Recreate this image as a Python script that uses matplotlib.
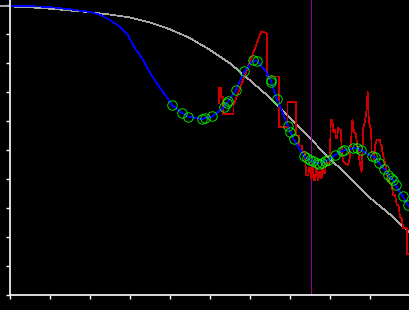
import matplotlib
matplotlib.use("Agg")
from matplotlib import pyplot as plt

# smooth reference curve (grey)
ref_x = [-0.25, 0.0, 0.5, 1.0, 1.5, 2.0, 2.5, 3.0, 3.5, 4.0, 4.5, 5.0, 5.5,
         6.0, 6.5, 7.0, 7.5, 8.0, 8.5, 9.0, 9.5, 10.0]
ref_y = [9.97, 9.95, 9.92, 9.87, 9.81, 9.75, 9.67, 9.57, 9.40, 9.16, 8.86,
         8.45, 7.99, 7.40, 6.80, 6.10, 5.40, 4.70, 4.03, 3.35, 2.78, 2.13]

# fitted curve (blue)
fit_x = [0.0, 0.5, 1.0, 1.5, 2.0, 2.25, 2.5, 2.75, 2.92, 3.125, 3.33, 3.46,
         3.67, 3.875, 4.05, 4.31, 4.46, 4.81, 4.875, 5.06, 5.2, 5.35, 5.42,
         5.46, 5.64, 5.86, 6.08, 6.175, 6.35, 6.52, 6.53, 6.675, 6.95, 7.01,
         7.09, 7.35, 7.42, 7.5, 7.58, 7.67, 7.73, 7.79, 7.875, 7.96, 8.125,
         8.29, 8.36, 8.58, 8.67, 8.77, 9.04, 9.125, 9.225, 9.36, 9.46, 9.525,
         9.58, 9.64, 9.82, 9.95, 10.1]
fit_y = [9.97, 9.96, 9.93, 9.85, 9.76, 9.66, 9.48, 9.25, 9.02, 8.51, 8.10,
         7.76, 7.30, 6.90, 6.55, 6.27, 6.15, 6.06, 6.10, 6.16, 6.30, 6.49,
         6.61, 6.68, 7.06, 7.71, 8.09, 8.06, 7.80, 7.40, 7.34, 6.75, 5.83,
         5.61, 5.37, 4.78, 4.71, 4.66, 4.61, 4.55, 4.53, 4.55, 4.61, 4.66,
         4.83, 4.95, 4.99, 5.06, 5.06, 5.00, 4.79, 4.75, 4.54, 4.33, 4.14,
         4.02, 3.97, 3.78, 3.41, 3.10, 2.75]

# sample points (green circles)
pts_x = [4.05, 4.31, 4.46, 4.81, 4.875, 5.06, 5.35, 5.42, 5.46, 5.64, 5.86,
         6.08, 6.175, 6.52, 6.53, 6.675, 6.95, 7.01, 7.09, 7.35, 7.42, 7.5,
         7.58, 7.67, 7.73, 7.79, 7.875, 7.96, 8.125, 8.29, 8.36, 8.58, 8.67,
         8.77, 9.04, 9.125, 9.225, 9.36, 9.46, 9.525, 9.58, 9.64, 9.82, 9.95]
pts_y = [6.55, 6.27, 6.15, 6.06, 6.10, 6.16, 6.49, 6.61, 6.68, 7.06, 7.71,
         8.09, 8.06, 7.40, 7.34, 6.75, 5.83, 5.61, 5.37, 4.78, 4.71, 4.66,
         4.61, 4.55, 4.53, 4.55, 4.61, 4.66, 4.83, 4.95, 4.99, 5.06, 5.06,
         5.00, 4.79, 4.75, 4.54, 4.33, 4.14, 4.02, 3.97, 3.78, 3.41, 3.10]

# raw signal (red)
raw_x = [5.22, 5.22, 5.28, 5.28, 5.325, 5.325, 5.59, 5.59, 6.28, 6.33, 6.425,
         6.425, 6.725, 6.725, 6.94, 6.94, 7.15, 7.15, 7.22, 7.22, 7.30, 7.30,
         7.375, 7.40, 7.46, 7.48, 7.50, 7.52, 7.54, 7.56, 7.58, 7.60, 7.625,
         7.65, 7.67, 7.69, 7.71, 7.73, 7.75, 7.77, 7.79, 7.81, 7.83, 7.85,
         7.875, 7.90, 7.92, 7.94, 7.98, 8.0, 8.02, 8.06, 8.08, 8.11, 8.125,
         8.15, 8.18, 8.2, 8.27, 8.30, 8.33, 8.45, 8.50, 8.56, 8.60, 8.64,
         8.72, 8.79, 8.81, 8.83, 8.875, 8.92, 8.94, 8.96, 8.97, 9.0, 9.03,
         9.04, 9.08, 9.11, 9.125, 9.17, 9.25, 9.27, 9.29, 9.31, 9.42, 9.46,
         9.54, 9.58, 9.625, 9.67, 9.71, 9.75, 9.79, 9.83, 9.92, 9.92, 10.05]
raw_y = [6.62, 7.14, 7.14, 6.83, 6.83, 6.24, 6.24, 6.55, 9.08, 9.08, 9.02,
         7.53, 7.53, 5.79, 5.79, 6.66, 6.66, 5.50, 5.50, 5.15, 5.15, 4.94,
         4.94, 4.14, 4.14, 4.38, 4.38, 4.02, 4.02, 4.41, 4.41, 3.97, 3.97,
         4.37, 4.37, 3.97, 3.97, 4.25, 4.25, 4.02, 4.02, 4.37, 4.37, 4.20,
         4.20, 4.54, 4.54, 4.48, 4.48, 4.94, 6.03, 6.03, 5.63, 5.63, 5.69,
         5.40, 5.40, 5.75, 5.69, 4.83, 4.60, 4.48, 4.77, 6.03, 5.63, 5.58,
         4.77, 4.25, 4.94, 5.75, 5.98, 6.44, 7.01, 6.44, 5.98, 5.86, 5.63,
         4.94, 4.94, 4.66, 5.17, 5.34, 5.34, 5.17, 5.17, 4.94, 4.25, 3.91,
         3.79, 3.45, 3.45, 3.10, 3.10, 2.70, 2.64, 2.30, 2.30, 1.41, 1.41]

marker_x = 7.53

plt.rcParams["lines.antialiased"] = False

fig = plt.figure(figsize=(4.1, 3.1), dpi=100, facecolor="black")
ax = fig.add_axes([10 / 410, 15 / 310, 400 / 410, 295 / 310], facecolor="black")

ax.plot(ref_x, ref_y, color="#a8a8a8", linewidth=0.5, clip_on=False)
ax.axvline(marker_x, color="#990099", linewidth=0.5)
ax.plot(raw_x, raw_y, color="#cc0000", linewidth=0.5)
ax.plot(fit_x, fit_y, color="#0000ff", linewidth=0.5)
ax.plot(pts_x, pts_y, linestyle="none", marker="o", markersize=6.8,
        markerfacecolor="none", markeredgecolor="#00ff00", markeredgewidth=0.6)

ax.set_xlim(0, 10)
ax.set_ylim(0, 295 / 29)
ax.set_xticks(range(0, 11))
ax.set_yticks(range(0, 11))
ax.set_xticklabels([])
ax.set_yticklabels([])
ax.tick_params(colors="white", length=3, width=1, direction="out")
for side in ["top", "right"]:
    ax.spines[side].set_visible(False)
for side in ["left", "bottom"]:
    ax.spines[side].set_color("white")
    ax.spines[side].set_linewidth(1.2)

fig.savefig("out.png", dpi=100, facecolor="black")
